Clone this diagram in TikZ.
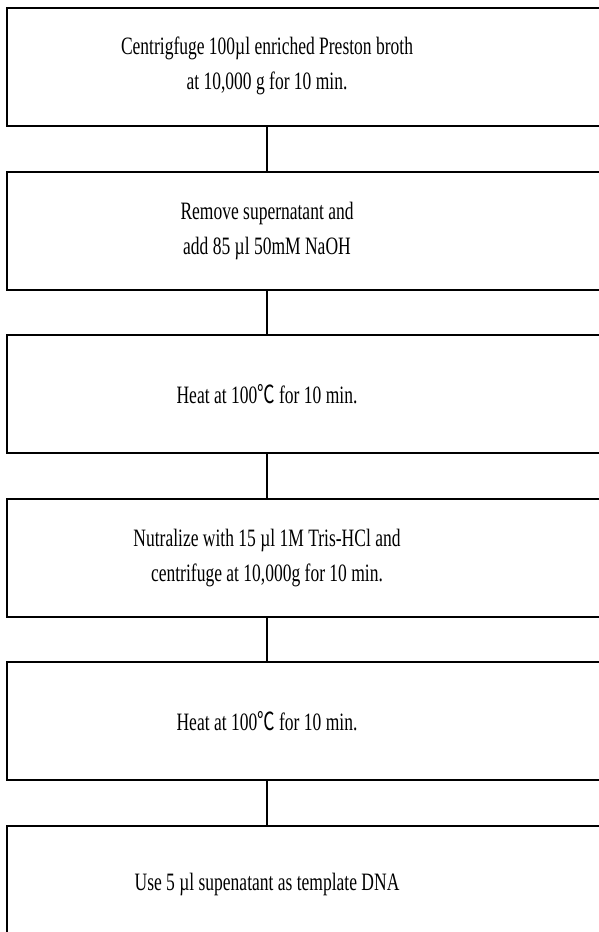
\documentclass[tikz,border=0pt]{standalone}
\usepackage{fontspec}
\newfontfamily\stepfont[FakeStretch=0.7]{Liberation Serif}
\newfontfamily\cjkfont[FakeStretch=0.7]{Noto Sans CJK KR}
\usetikzlibrary{positioning}
\tikzset{stepbox/.style={draw,line width=2.2pt,minimum width=700pt,minimum height=118pt,inner sep=0pt,anchor=north west}}
\tikzset{steptext/.style={align=center,font=\stepfont\fontsize{25}{35}\selectfont}}
\tikzset{link/.style={line width=1.6pt}}

\begin{document}
\begin{tikzpicture}[x=1pt,y=1pt]
\useasboundingbox (0,0) rectangle (598,-932);
\node[stepbox] (b1) at (6,-7) {};
\node[stepbox,below=43.3pt of b1] (b2) {};
\node[stepbox,below=43.3pt of b2] (b3) {};
\node[stepbox,below=43.3pt of b3] (b4) {};
\node[stepbox,below=43.3pt of b4] (b5) {};
\node[stepbox,below=43.3pt of b5] (b6) {};

\node[steptext] (t1) at (267,-65.5) {Centrigfuge 100µl enriched Preston broth\\at 10,000 g for 10 min.};
\node[steptext] (t2) at (t1 |- b2) {Remove supernatant and\\add 85 µl 50mM NaOH};
\node[steptext] (t3) at (t1 |- b3) {Heat at 100{\cjkfont ℃} for 10 min.};
\node[steptext] (t4) at (t1 |- b4) {Nutralize with 15 µl 1M Tris-HCl and\\centrifuge at 10,000g for 10 min.};
\node[steptext] (t5) at (t1 |- b5) {Heat at 100{\cjkfont ℃} for 10 min.};
\node[steptext] (t6) at (t1 |- b6) {Use 5 µl supenatant as template DNA};

\foreach \a/\b in {1/2,2/3,3/4,4/5,5/6}
	\draw[link] (b\a.south -| t1) -- (b\b.north -| t1);
\end{tikzpicture}
\end{document}
